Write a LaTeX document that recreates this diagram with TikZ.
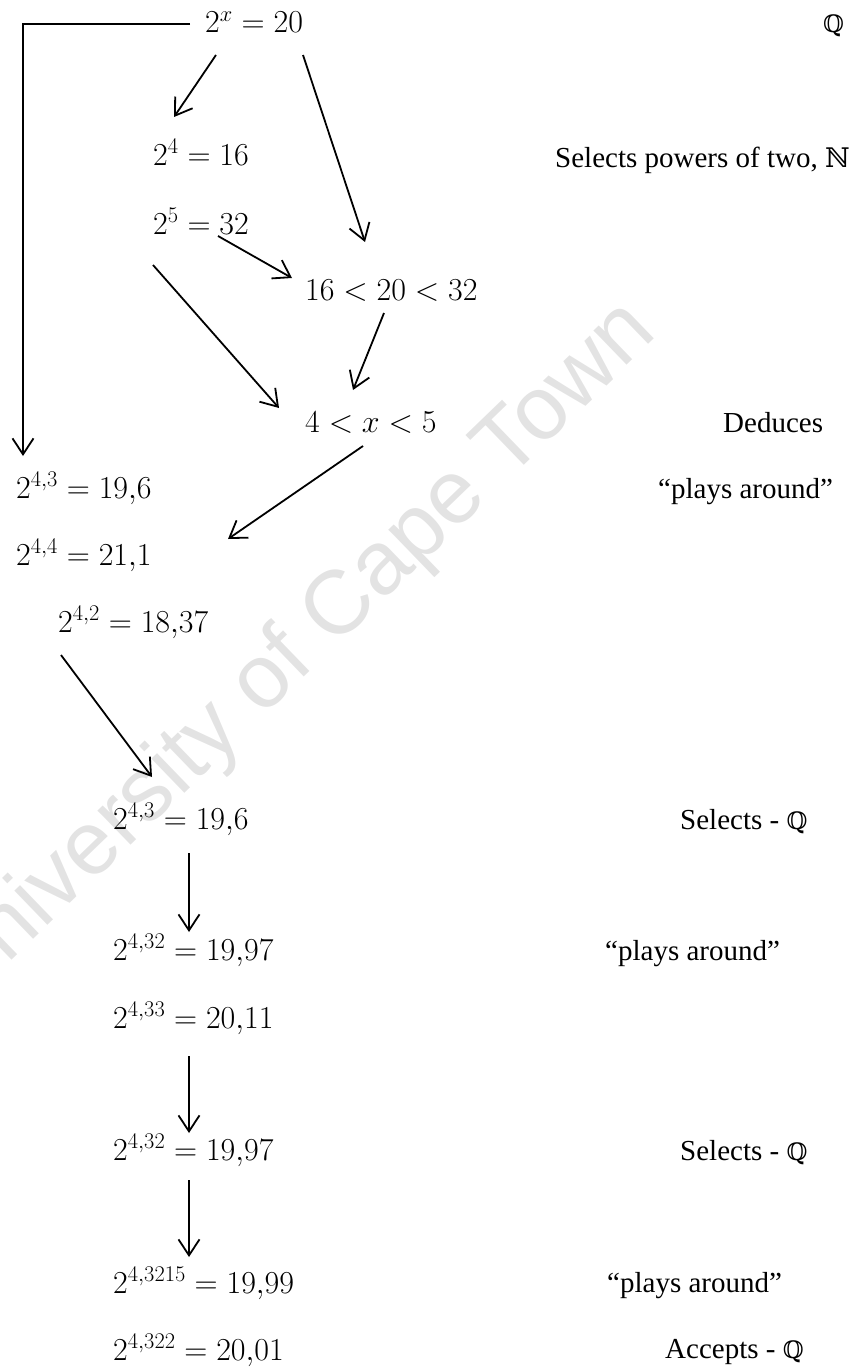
\RequirePackage{fix-cm}
\documentclass[tikz,border=0pt]{standalone}
\usepackage{amsmath}
\usepackage[no-math]{fontspec}
\setmainfont{Liberation Serif}
\newfontfamily\wmfont{Liberation Sans}
\newfontfamily\dsfont{DejaVu Serif}
\usetikzlibrary{arrows.meta,calc}
\newcommand{\dsQ}{{\dsfont\fontsize{24}{28}\selectfont ℚ}}
\newcommand{\dsN}{{\dsfont\fontsize{27}{30}\selectfont ℕ}}
\tikzset{
  mathnode/.style={anchor=base west, inner sep=0pt, font=\fontsize{32}{38}\selectfont},
  labnode/.style={anchor=base west, inner sep=0pt, font=\fontsize{29}{34}\selectfont},
  arr/.style={-{Straight Barb[length=16pt,width=21pt]}, line width=1.8pt},
  wmark/.style={anchor=base east, inner sep=0pt, rotate=44, text=black!11,
    font=\wmfont\fontsize{90}{96}\selectfont},
}
\begin{document}
\begin{tikzpicture}[x=1pt,y=-1pt]
\useasboundingbox (0,0) rectangle (854,1370);
% watermark
\node[wmark] (wm) at (659,335) {University of Cape Town};

% math nodes
\node[mathnode] (a)  at (205,33)   {$2^{x} = 20$};
\node[mathnode] (b)  at (153,165)  {$2^{4} = 16$};
\node[mathnode] (c)  at (153,234)  {$2^{5} = 32$};
\node[mathnode] (d)  at (305,300)  {$16 < 20 < 32$};
\node[mathnode] (e)  at (305,432)  {$4 < x < 5$};
\node[mathnode] (f)  at (16,498)   {$2^{4{,}3} = 19{,}6$};
\node[mathnode] (g)  at (16,565)   {$2^{4{,}4} = 21{,}1$};
\node[mathnode] (h)  at (58,632)   {$2^{4{,}2} = 18{,}37$};
\node[mathnode] (i)  at (113,829)  {$2^{4{,}3} = 19{,}6$};
\node[mathnode] (j)  at (113,960)  {$2^{4{,}32} = 19{,}97$};
\node[mathnode] (k)  at (113,1028) {$2^{4{,}33} = 20{,}11$};
\node[mathnode] (l)  at (113,1160) {$2^{4{,}32} = 19{,}97$};
\node[mathnode] (m1) at (113,1293) {$2^{4{,}3215} = 19{,}99$};
\node[mathnode] (n1) at (113,1360) {$2^{4{,}322} = 20{,}01$};

% labels
\node[labnode] (q0) at (823,33)   {\dsQ};
\node[labnode] (l1) at (555,167)  {Selects powers of two, \dsN};
\node[labnode] (l2) at (723,432)  {Deduces};
\node[labnode] (l3) at (658,498)  {“plays around”};
\node[labnode] (l4) at (680,829)  {Selects - \dsQ};
\node[labnode] (l5) at (605,960)  {“plays around”};
\node[labnode] (l6) at (680,1160) {Selects - \dsQ};
\node[labnode] (l7) at (607,1292) {“plays around”};
\node[labnode] (l8) at (665,1358) {Accepts - \dsQ};

% connectors
\draw[arr] ($(a.base west)+(-15,-9)$) -| ($(f.base west)+(7,-42)$);
\draw[arr] ($(a.base west)+(11,22)$) -- ($(b.base west)+(21,-48)$);
\draw[arr] ($(a.base west)+(98,22)$) -- ($(d.base west)+(60,-58)$);
\draw[arr] ($(c.base west)+(65,2)$) -- ($(d.base west)+(-13,-22)$);
\draw[arr] ($(c.base west)+(0,31)$) -- ($(e.base west)+(-26,-24)$);
\draw[arr] ($(d.base west)+(79,13)$) -- ($(e.base west)+(48,-42)$);
\draw[arr] ($(e.base west)+(58,14)$) -- ($(g.base west)+(212,-26)$);
\draw[arr] ($(h.base west)+(3,23)$) -- ($(i.base west)+(39,-52)$);
\draw[arr] ($(i.base west)+(76,24)$) -- ($(j.base west)+(76,-28)$);
\draw[arr] ($(k.base west)+(76,28)$) -- ($(l.base west)+(76,-27)$);
\draw[arr] ($(l.base west)+(76,20)$) -- ($(m1.base west)+(76,-36)$);
\end{tikzpicture}
\end{document}
